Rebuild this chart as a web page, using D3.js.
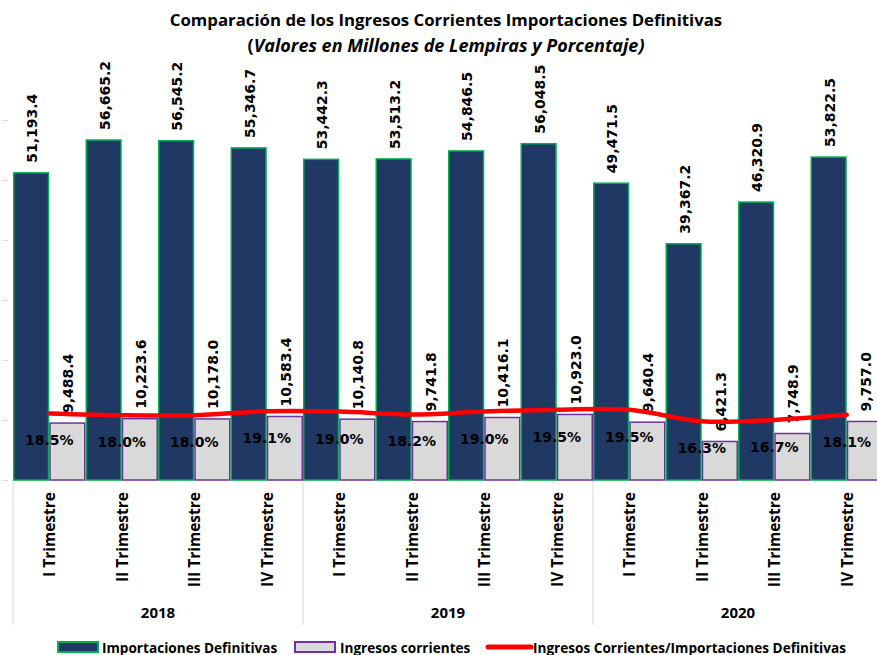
<!DOCTYPE html>
<html>
<head>
<meta charset="utf-8">
<script src="https://cdn.jsdelivr.net/npm/d3@7"></script>
<style>
  body { margin: 0; background: #fff; }
  svg { display: block; }
</style>
</head>
<body>
<div id="chart"></div>
<script>
const years = ['2018', '2019', '2020'];
const quarters = ['I Trimestre', 'II Trimestre', 'III Trimestre', 'IV Trimestre'];
const importaciones = [51193.4, 56665.2, 56545.2, 55346.7, 53442.3, 53513.2, 54846.5, 56048.5, 49471.5, 39367.2, 46320.9, 53822.5];
const ingresos = [9488.4, 10223.6, 10178.0, 10583.4, 10140.8, 9741.8, 10416.1, 10923.0, 9640.4, 6421.3, 7748.9, 9757.0];
const porcentaje = [18.5, 18.0, 18.0, 19.1, 19.0, 18.2, 19.0, 19.5, 19.5, 16.3, 16.7, 18.1];
const yTicks = [0, 10000, 20000, 30000, 40000, 50000, 60000];

const outerWidth = 877;
const outerHeight = 655;
const plot = { left: 13, right: 883, top: 120, bottom: 480 };

const rows = [];
years.forEach((yr, i) => {
    quarters.forEach((q, j) => {
        const k = i * 4 + j;
        rows.push({ key: yr + '-' + q, year: yr, quarter: q, imp: importaciones[k], ing: ingresos[k], pct: porcentaje[k] });
    });
});

const svg = d3.select('#chart').append('svg')
    .attr('width', outerWidth)
    .attr('height', outerHeight);

const x = d3.scaleBand().domain(rows.map(d => d.key)).range([plot.left, plot.right]).padding(0);
const xs = d3.scaleBand().domain(['imp', 'ing']).range([0, x.bandwidth()]).padding(0);
const y = d3.scaleLinear().domain([0, 60000]).range([plot.bottom, plot.top]);
const y2 = d3.scaleLinear().domain([0, 100]).range([plot.bottom, plot.top]);

// small ticks at the left, labels hidden
const yAxis = svg.append('g')
    .attr('transform', 'translate(8,0)')
    .call(d3.axisLeft(y).tickValues(yTicks).tickSize(5).tickFormat(''));
yAxis.select('.domain').remove();
yAxis.selectAll('line').attr('stroke', '#bfbfbf').attr('stroke-dasharray', '1,1');

// category axis lines
svg.append('line')
    .attr('x1', plot.left).attr('x2', outerWidth)
    .attr('y1', plot.bottom).attr('y2', plot.bottom)
    .attr('stroke', '#d9d9d9').attr('stroke-width', 1);

const groupEdges = years.map((yr, i) => x(rows[i * 4].key));
svg.selectAll('.sep')
    .data(groupEdges)
    .join('line')
    .attr('class', 'sep')
    .attr('x1', d => d).attr('x2', d => d)
    .attr('y1', plot.bottom).attr('y2', 625)
    .attr('stroke', '#d9d9d9').attr('stroke-width', 1);

// bars
const g = svg.selectAll('.cat')
    .data(rows)
    .join('g')
    .attr('class', 'cat')
    .attr('transform', d => `translate(${x(d.key)},0)`);

g.append('rect')
    .attr('x', xs('imp') + 0.75)
    .attr('y', d => y(d.imp))
    .attr('width', xs.bandwidth() - 1.5)
    .attr('height', d => y(0) - y(d.imp))
    .attr('fill', '#1f3864')
    .attr('stroke', '#00b050')
    .attr('stroke-width', 1.5);

g.append('rect')
    .attr('x', xs('ing') + 0.75)
    .attr('y', d => y(d.ing))
    .attr('width', xs.bandwidth() - 1.5)
    .attr('height', d => y(0) - y(d.ing))
    .attr('fill', '#d9d9d9')
    .attr('stroke', '#7030a0')
    .attr('stroke-width', 1.5);

const fmt = d3.format(',.1f');
const labelFont = '"DejaVu Sans", Verdana, sans-serif';

g.append('text')
    .attr('transform', d => `translate(${xs('imp') + xs.bandwidth() / 2 + 1},${y(d.imp) - 10}) rotate(-90)`)
    .attr('dominant-baseline', 'central')
    .style('font-family', labelFont).style('font-weight', 'bold').style('font-size', '14px')
    .attr('fill', '#000')
    .text(d => fmt(d.imp));

g.append('text')
    .attr('transform', d => `translate(${xs('ing') + xs.bandwidth() / 2 + 1},${y(d.ing) - 10}) rotate(-90)`)
    .attr('dominant-baseline', 'central')
    .style('font-family', labelFont).style('font-weight', 'bold').style('font-size', '14px')
    .attr('fill', '#000')
    .text(d => fmt(d.ing));

// ratio line
const line = d3.line()
    .x(d => x(d.key) + x.bandwidth() / 2)
    .y(d => y2(d.pct))
    .curve(d3.curveCatmullRom.alpha(0.5));

svg.append('path')
    .datum(rows)
    .attr('d', line)
    .attr('fill', 'none')
    .attr('stroke', '#ff0000')
    .attr('stroke-width', 4.5)
    .attr('stroke-linecap', 'round');

svg.selectAll('.pct')
    .data(rows)
    .join('text')
    .attr('class', 'pct')
    .attr('x', d => x(d.key) + x.bandwidth() / 2)
    .attr('y', d => y2(d.pct) + 27)
    .attr('text-anchor', 'middle')
    .attr('dominant-baseline', 'central')
    .style('font-family', labelFont).style('font-weight', 'bold').style('font-size', '14px')
    .text(d => d.pct.toFixed(1) + '%');

// category labels
svg.selectAll('.qlab')
    .data(rows)
    .join('text')
    .attr('class', 'qlab')
    .attr('transform', d => `translate(${x(d.key) + x.bandwidth() / 2},492) rotate(-90)`)
    .attr('text-anchor', 'end')
    .attr('dominant-baseline', 'central')
    .style('font-family', '"Open Sans", sans-serif').style('font-weight', 'bold').style('font-size', '15.5px')
    .text(d => d.quarter);

svg.selectAll('.ylab')
    .data(years)
    .join('text')
    .attr('class', 'ylab')
    .attr('x', (d, i) => groupEdges[i] + x.bandwidth() * 2)
    .attr('y', 612)
    .attr('text-anchor', 'middle')
    .attr('dominant-baseline', 'central')
    .style('font-family', '"Open Sans", sans-serif').style('font-weight', 'bold').style('font-size', '15px')
    .text(d => d);

// title
const titleFont = '"Open Sans", sans-serif';
svg.append('text')
    .attr('x', 446).attr('y', 26)
    .attr('text-anchor', 'middle')
    .style('font-family', titleFont).style('font-weight', 'bold').style('font-size', '16.8px')
    .text('Comparación de los Ingresos Corrientes Importaciones Definitivas');

svg.append('text')
    .attr('x', 446).attr('y', 52)
    .attr('text-anchor', 'middle')
    .style('font-family', titleFont).style('font-weight', 'bold').style('font-size', '18px')
    .text('(')
    .append('tspan').style('font-style', 'italic')
    .text('Valores en Millones de Lempiras y Porcentaje)');

// legend
const legendFont = '"Open Sans", sans-serif';
const leg = svg.append('g').attr('transform', 'translate(0,647)');

leg.append('rect').attr('x', 58).attr('y', -5).attr('width', 40).attr('height', 10)
    .attr('fill', '#1f3864').attr('stroke', '#00b050').attr('stroke-width', 2);
leg.append('text').attr('x', 102).attr('y', 0).attr('dominant-baseline', 'central')
    .style('font-family', legendFont).style('font-weight', 'bold').style('font-size', '13.6px')
    .text('Importaciones Definitivas');

leg.append('rect').attr('x', 295).attr('y', -5).attr('width', 40).attr('height', 10)
    .attr('fill', '#d9d9d9').attr('stroke', '#7030a0').attr('stroke-width', 2);
leg.append('text').attr('x', 340).attr('y', 0).attr('dominant-baseline', 'central')
    .style('font-family', legendFont).style('font-weight', 'bold').style('font-size', '13.6px')
    .text('Ingresos corrientes');

leg.append('line').attr('x1', 488).attr('x2', 531).attr('y1', 0).attr('y2', 0)
    .attr('stroke', '#ff0000').attr('stroke-width', 5).attr('stroke-linecap', 'round');
leg.append('text').attr('x', 533).attr('y', 0).attr('dominant-baseline', 'central')
    .style('font-family', legendFont).style('font-weight', 'bold').style('font-size', '13.6px')
    .text('Ingresos Corrientes/Importaciones Definitivas');
</script>
</body>
</html>
